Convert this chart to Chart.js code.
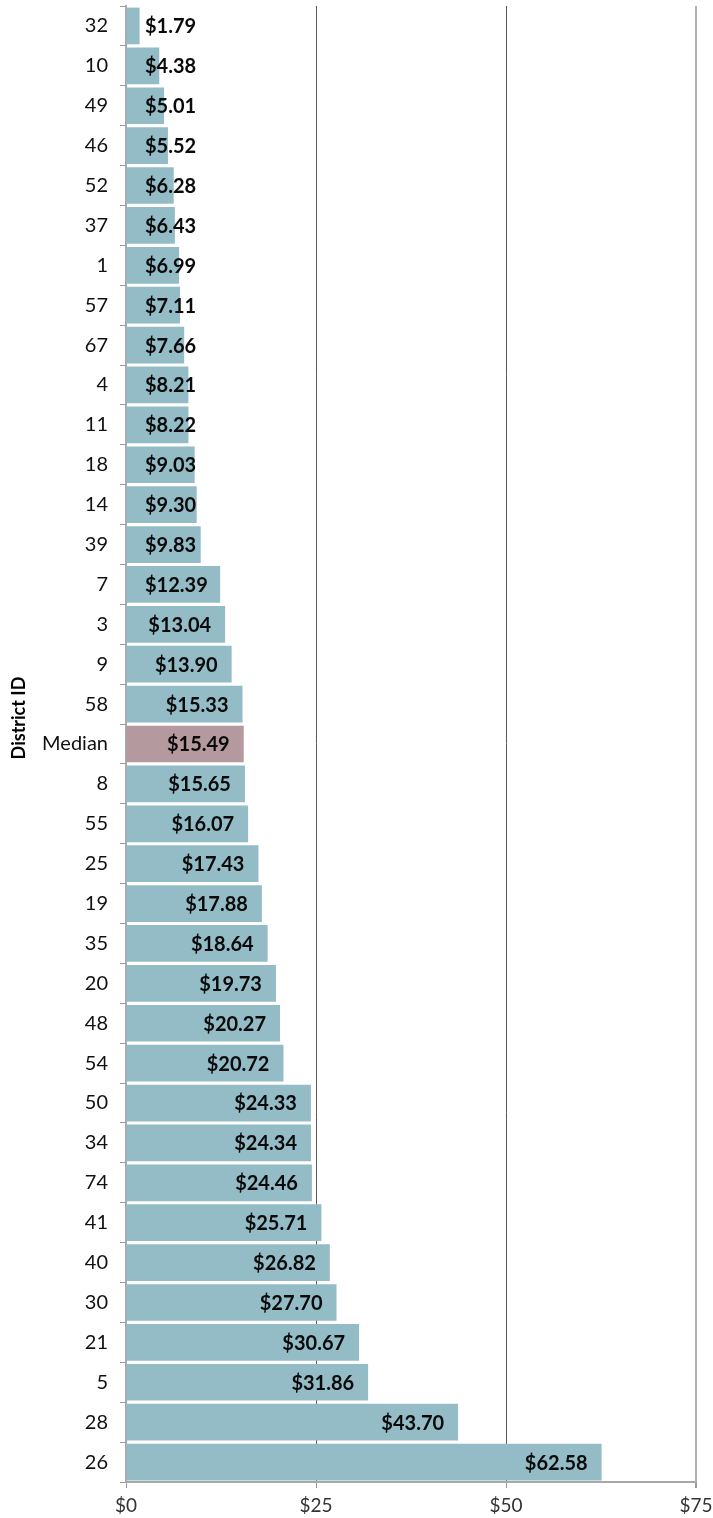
<!DOCTYPE html>
<html lang="en">
<head>
<meta charset="UTF-8">
<title>District ID</title>
<script src="https://cdn.jsdelivr.net/npm/chart.js@4.4.0/dist/chart.umd.min.js"></script>
<style>
  html, body { margin: 0; padding: 0; background: #fff; }
  #wrap { width: 713px; height: 1518px; }
</style>
</head>
<body>
<div id="wrap"><canvas id="districtChart" width="713" height="1518"></canvas></div>
<script>
const districts = ['32', '10', '49', '46', '52', '37', '1', '57', '67', '4', '11', '18', '14', '39',
  '7', '3', '9', '58', 'Median', '8', '55', '25', '19', '35', '20', '48', '54', '50', '34', '74',
  '41', '40', '30', '21', '5', '28', '26'];
const amounts = [1.79, 4.38, 5.01, 5.52, 6.28, 6.43, 6.99, 7.11, 7.66, 8.21, 8.22, 9.03, 9.30, 9.83,
  12.39, 13.04, 13.90, 15.33, 15.49, 15.65, 16.07, 17.43, 17.88, 18.64, 19.73, 20.27, 20.72, 24.33,
  24.34, 24.46, 25.71, 26.82, 27.70, 30.67, 31.86, 43.70, 62.58];
const xTicks = [0, 25, 50, 75];

const barColor = '#93bcc6';
const medianColor = '#b4999e';

// value labels: right-aligned inside the bar end, never closer than 19px to the axis
const valueLabels = {
  id: 'valueLabels',
  afterDatasetsDraw(chart) {
    const ctx = chart.ctx;
    const meta = chart.getDatasetMeta(0);
    const left = chart.chartArea.left;
    ctx.save();
    ctx.font = 'bold 20px Lato';
    ctx.fillStyle = '#0a0a0a';
    ctx.textAlign = 'right';
    ctx.textBaseline = 'middle';
    meta.data.forEach((bar, i) => {
      const text = '$' + amounts[i].toFixed(2);
      const w = ctx.measureText(text).width;
      const x = Math.max(bar.x - 14, left + 19 + w);
      ctx.fillText(text, x, bar.y + 1);
    });
    ctx.restore();
  }
};

// rotated axis title
const axisTitle = {
  id: 'axisTitle',
  afterDraw(chart) {
    const ctx = chart.ctx;
    ctx.save();
    ctx.translate(19, 718);
    ctx.rotate(-Math.PI / 2);
    ctx.font = 'bold 18px Lato';
    ctx.fillStyle = '#000';
    ctx.textAlign = 'center';
    ctx.textBaseline = 'middle';
    ctx.fillText('District ID', 0, 0);
    ctx.restore();
  }
};

new Chart(document.getElementById('districtChart'), {
  type: 'bar',
  data: {
    labels: districts,
    datasets: [{
      data: amounts,
      backgroundColor: districts.map(d => d === 'Median' ? medianColor : barColor),
      borderWidth: 0,
      barPercentage: 0.92,
      categoryPercentage: 1
    }]
  },
  options: {
    indexAxis: 'y',
    responsive: false,
    animation: false,
    layout: { padding: { left: 0, right: 17, top: 6, bottom: 0 } },
    plugins: {
      legend: { display: false },
      tooltip: { enabled: false }
    },
    scales: {
      x: {
        min: 0,
        max: 75,
        z: 1,
        afterBuildTicks(scale) {
          scale.ticks = xTicks.map(v => ({ value: v }));
        },
        afterFit(scale) {
          scale.height = 36;
          scale.paddingLeft = 0;
          scale.paddingRight = 0;
        },
        grid: {
          color: c => c.tick && c.tick.value === 75 ? '#b0b0b0' : (c.tick && c.tick.value === 0 ? 'rgba(0,0,0,0)' : '#5a5a5a'),
          lineWidth: c => c.tick && c.tick.value === 75 ? 2 : 1,
          tickColor: '#9a9a9a',
          tickLength: 6
        },
        border: { color: '#a8a8a8', width: 2 },
        ticks: {
          padding: 6,
          color: '#333',
          font: { family: 'Lato', size: 19 },
          callback: v => '$' + v
        }
      },
      y: {
        afterFit(scale) {
          scale.width = 126;
          scale.paddingTop = 0;
          scale.paddingBottom = 0;
        },
        grid: {
          drawOnChartArea: false,
          tickColor: '#9a9a9a',
          tickLength: 6,
          offset: true
        },
        border: { color: '#a8a8a8', width: 2 },
        ticks: {
          padding: 12,
          color: '#111',
          font: { family: 'Lato', size: 20 }
        }
      }
    }
  },
  plugins: [valueLabels, axisTitle]
});
</script>
</body>
</html>
